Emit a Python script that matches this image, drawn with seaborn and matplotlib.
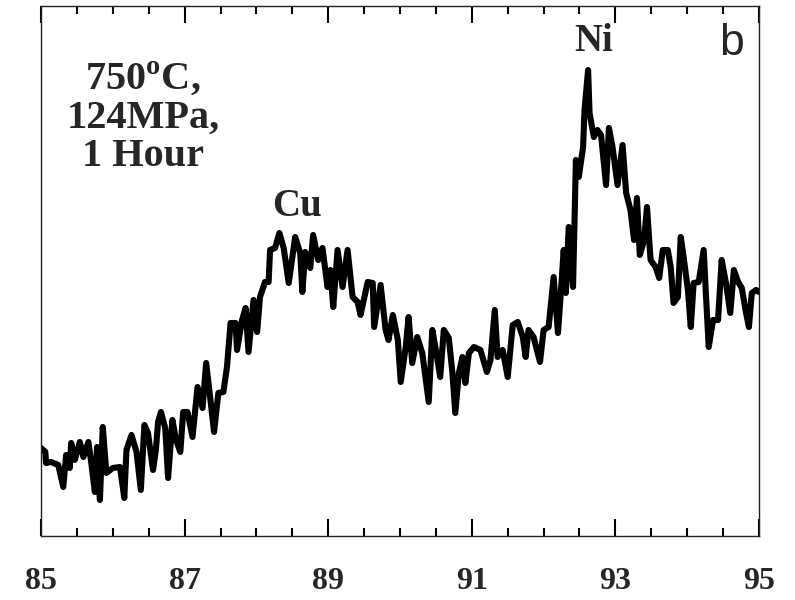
import numpy as np
import pandas as pd
import seaborn as sns
import matplotlib.pyplot as plt
from matplotlib.ticker import MultipleLocator

# XRD trace, 2-theta (deg) vs intensity (arb. units)
two_theta = [
    85.00, 85.06, 85.07, 85.14, 85.24, 85.31, 85.35, 85.40, 85.42, 85.47,
    85.54, 85.59, 85.66, 85.70, 85.75, 85.78, 85.82, 85.86, 85.91, 86.00,
    86.10, 86.16, 86.19, 86.26, 86.33, 86.39, 86.44, 86.49, 86.56, 86.60,
    86.63, 86.67, 86.73, 86.77, 86.83, 86.88, 86.94, 86.98, 87.04, 87.11,
    87.18, 87.25, 87.30, 87.36, 87.41, 87.47, 87.54, 87.59, 87.64, 87.71,
    87.73, 87.80, 87.85, 87.89, 87.96, 88.01, 88.05, 88.12, 88.17, 88.19,
    88.26, 88.32, 88.38, 88.45, 88.54, 88.61, 88.64, 88.68, 88.75, 88.79,
    88.86, 88.92, 88.99, 89.03, 89.07, 89.13, 89.20, 89.27, 89.34, 89.41,
    89.45, 89.55, 89.62, 89.64, 89.73, 89.80, 89.84, 89.90, 89.97, 90.01,
    90.08, 90.12, 90.17, 90.24, 90.31, 90.40, 90.45, 90.50, 90.56, 90.61,
    90.68, 90.73, 90.77, 90.82, 90.87, 90.91, 90.96, 91.03, 91.12, 91.21,
    91.26, 91.32, 91.36, 91.43, 91.50, 91.57, 91.64, 91.71, 91.75, 91.79,
    91.86, 91.95, 92.00, 92.07, 92.14, 92.20, 92.24, 92.28, 92.31, 92.35,
    92.41, 92.45, 92.49, 92.55, 92.57, 92.62, 92.64, 92.70, 92.75, 92.80,
    92.87, 92.91, 92.96, 93.03, 93.10, 93.15, 93.21, 93.26, 93.30, 93.34,
    93.40, 93.44, 93.49, 93.56, 93.61, 93.66, 93.73, 93.77, 93.81, 93.87,
    93.91, 93.95, 94.01, 94.05, 94.09, 94.16, 94.23, 94.26, 94.30, 94.36,
    94.43, 94.48, 94.54, 94.60, 94.65, 94.71, 94.76, 94.82, 94.86, 94.90,
    94.96, 95.00,
]
intensity = [
    88, 84, 73, 74, 71, 49, 81, 68, 93, 76,
    94, 79, 94, 73, 44, 89, 36, 109, 63, 68,
    69, 38, 86, 101, 84, 46, 111, 103, 66, 86,
    114, 124, 108, 58, 116, 96, 84, 124, 124, 99,
    149, 128, 173, 136, 104, 143, 144, 169, 213, 213,
    186, 216, 228, 184, 236, 204, 239, 254, 254, 286,
    288, 303, 288, 253, 299, 283, 244, 284, 268, 301,
    276, 288, 249, 266, 229, 286, 249, 286, 239, 234,
    221, 254, 253, 209, 251, 206, 196, 221, 196, 154,
    189, 219, 173, 199, 183, 134, 206, 186, 159, 206,
    198, 163, 123, 163, 179, 153, 183, 189, 186, 164,
    176, 226, 179, 186, 159, 211, 214, 199, 179, 206,
    199, 174, 206, 209, 259, 203, 243, 286, 243, 309,
    249, 376, 359, 389, 426, 466, 423, 399, 406, 401,
    351, 408, 389, 351, 391, 343, 326, 296, 338, 281,
    296, 329, 276, 269, 258, 286, 286, 269, 233, 239,
    299, 279, 246, 209, 253, 254, 286, 243, 189, 216,
    216, 276, 253, 223, 266, 254, 248, 223, 209, 243,
    246, 244,
]

tick_vals = [85, 87, 89, 91, 93, 95]
peak_labels = ["Cu", "Ni"]
peak_pos = [(88.57, 329), (92.70, 494)]
condition_text = "750$^{\\mathbf{o}}$C,\n124MPa,\n1 Hour"
panel_label = "b"

df = pd.DataFrame({"two_theta": two_theta, "intensity": intensity})

sns.set_theme(style="ticks")
plt.rcParams["font.family"] = ["Liberation Serif", "DejaVu Serif"]
plt.rcParams["mathtext.fontset"] = "custom"
plt.rcParams["mathtext.bf"] = "Liberation Serif:bold"
plt.rcParams["mathtext.rm"] = "Liberation Serif:bold"

fig = plt.figure(figsize=(7.95, 6.0), dpi=100)
ax = fig.add_axes([0.0516, 0.1067, 0.9031, 0.8833])

sns.lineplot(data=df, x="two_theta", y="intensity", color="black",
             linewidth=4.4, sort=False, ax=ax)

ax.set_xlim(85, 95)
ax.set_ylim(0, 530)
ax.set_xlabel("")
ax.set_ylabel("")

ax.set_xticks(tick_vals)
ax.xaxis.set_minor_locator(MultipleLocator(0.5))
ax.tick_params(axis="y", left=False, labelleft=False)
# inward ticks on top and bottom, longer at the labelled positions
ax.tick_params(axis="x", which="major", direction="in", length=12,
               width=1.5, color="black", top=True, bottom=True, pad=22,
               labelsize=23)
ax.tick_params(axis="x", which="minor", direction="in", length=6,
               width=1.5, color="black", top=True, bottom=True)
for lbl in ax.get_xticklabels():
    lbl.set_fontweight("bold")
for s in ax.spines.values():
    s.set_linewidth(1.0)
    s.set_color("#222222")

# Annotations
ax.text(0.142, 0.79, condition_text, transform=ax.transAxes, ha="center",
        va="center", fontsize=29, fontweight="bold", linespacing=1.05)
for lab, (px, py) in zip(peak_labels, peak_pos):
    ax.text(px, py, lab, ha="center", va="center", fontsize=28,
            fontweight="bold")
ax.text(0.962, 0.93, panel_label, transform=ax.transAxes, ha="center",
        va="center", fontsize=32, family="Liberation Sans")

fig.savefig("out.png", dpi=100)
